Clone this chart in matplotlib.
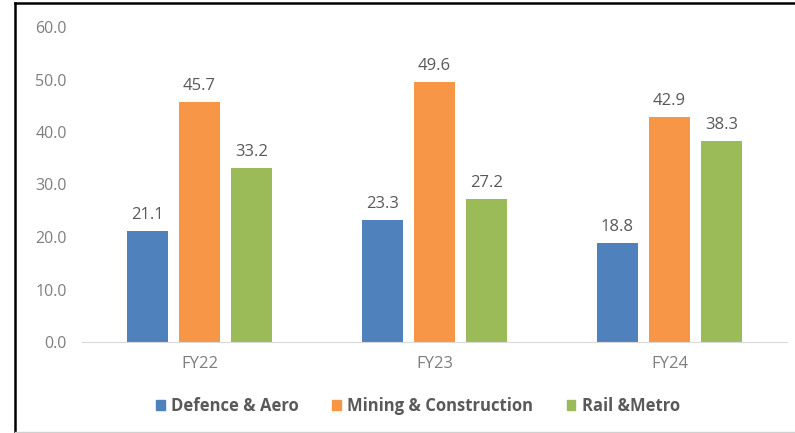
import numpy as np
import matplotlib.pyplot as plt
from matplotlib.lines import Line2D

years = ['FY22', 'FY23', 'FY24']
defence_aero = [21.1, 23.3, 18.8]
mining_construction = [45.7, 49.6, 42.9]
rail_metro = [33.2, 27.2, 38.3]

series = [
    ('Defence & Aero', defence_aero, '#4F81BD'),
    ('Mining & Construction', mining_construction, '#F79646'),
    ('Rail &Metro', rail_metro, '#9BBB59'),
]

plt.rcParams['font.family'] = ['Open Sans', 'DejaVu Sans']
text_gray = '#595959'

fig = plt.figure(figsize=(7.95, 4.33), dpi=100)
ax = fig.add_axes([82 / 795, 1 - 342 / 433, 705 / 795, 315 / 433])

x = np.arange(len(years))
width = 0.175
step = 0.222
for i, (name, vals, color) in enumerate(series):
    pos = x + (i - 1) * step
    bars = ax.bar(pos, vals, width, color=color, label=name)
    for b, v in zip(bars, vals):
        ax.text(b.get_x() + b.get_width() / 2, v + 1.5, f'{v:.1f}',
                ha='center', va='bottom', fontsize=12, color=text_gray)

ax.set_xlim(-0.5, 2.5)
ax.set_ylim(0, 60)
ax.set_yticks(np.arange(0, 61, 10))
ax.set_yticklabels([f'{t:.1f}' for t in np.arange(0, 61, 10)])
ax.set_xticks(x)
ax.set_xticklabels(years)
ax.tick_params(axis='y', length=0, pad=11, labelsize=11.5, labelcolor='#7f7f7f')
ax.tick_params(axis='x', length=0, pad=10, labelsize=12, labelcolor='#7f7f7f')
for side in ['top', 'right', 'left']:
    ax.spines[side].set_visible(False)
ax.spines['bottom'].set_color('#d9d9d9')

handles = [plt.Rectangle((0, 0), 1, 1, color=c) for _, _, c in series]
leg = fig.legend(handles, [s[0] for s in series], loc='center',
                 bbox_to_anchor=(418 / 795, 1 - 406 / 433), ncol=3, frameon=False,
                 handlelength=0.5, handleheight=0.5, handletextpad=0.4,
                 columnspacing=2.0, prop={'size': 12, 'weight': 'bold'})
for t in leg.get_texts():
    t.set_color(text_gray)

# outer frame around the chart
fig.add_artist(Line2D([15 / 795, 15 / 795], [0, 1 - 3 / 433], color='black', lw=1.8))
fig.add_artist(Line2D([15 / 795, 1], [1 - 3 / 433, 1 - 3 / 433], color='black', lw=1.8))
fig.add_artist(Line2D([15 / 795, 1], [1 / 433, 1 / 433], color='#d0d0d0', lw=1))

fig.savefig('out.png', dpi=100)
